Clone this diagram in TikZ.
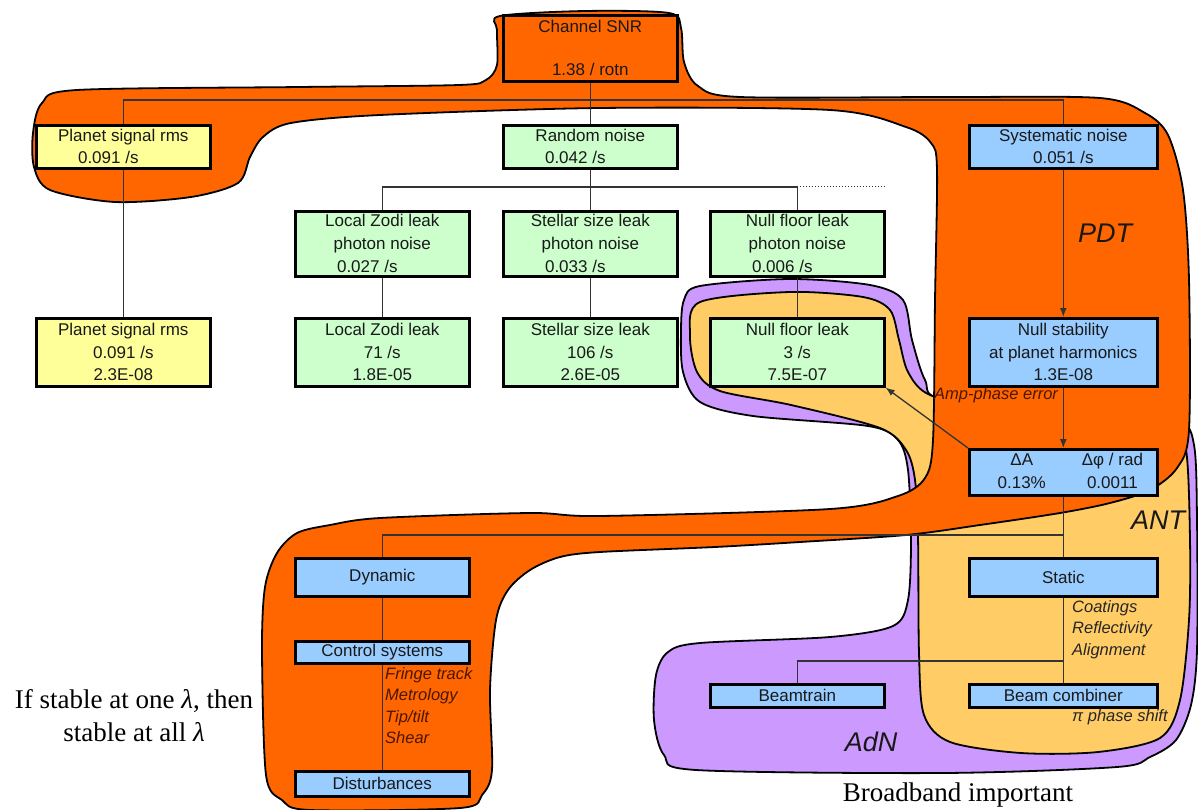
\documentclass[tikz,border=0pt]{standalone}
\usepackage{fontspec}
\setmainfont{Liberation Sans}
\newfontfamily\serifft{Liberation Serif}
\usetikzlibrary{arrows.meta}
\definecolor{orng}{HTML}{FF6600}
\definecolor{antyel}{HTML}{FFCC66}
\definecolor{adnpur}{HTML}{CC99FF}
\definecolor{grnbox}{HTML}{CCFFCC}
\definecolor{bluebox}{HTML}{99CCFF}
\definecolor{yelbox}{HTML}{FFFF99}
\definecolor{brn}{HTML}{4A1600}
\definecolor{lgray}{HTML}{333333}
\begin{document}
\begin{tikzpicture}[x=1pt,y=-1pt,
  box/.style={draw=black, line width=2.6pt, inner sep=0pt, anchor=north west, align=center,
    font=\fontsize{17}{22}\selectfont, text=black!90},
  tbox/.style={box, font=\fontsize{17}{23}\selectfont},
  wA/.style={minimum width=174pt},
  wB/.style={minimum width=188pt},
  conn/.style={draw=lgray, line width=1.3pt},
  arr/.style={conn, -{Latex[length=9pt,width=7pt]}},
  blob/.style={draw=black, line width=1.8pt},
  ital/.style={font=\fontsize{16.5}{21.5}\selectfont\itshape, align=left, anchor=north west, inner sep=0pt},
  big/.style={font=\fontsize{27}{30}\selectfont\itshape, text=black!90, inner sep=0pt},
  note/.style={font=\serifft\fontsize{27}{33}\selectfont, align=center, inner sep=0pt}
]
\useasboundingbox (0,0) rectangle (1198,810);

% ---- blobs
\path[blob, fill=adnpur] plot[smooth cycle, tension=0.5] coordinates {
 (684,300) (700,286) (790,279) (870,285) (903,300) (912,340) (925,380) (945,400) (1100,415)
 (1178,422) (1194,445) (1197,520) (1197,650) (1191,705) (1176,740) (1150,757) (1117,767)
 (944,773) (696,770) (664,755) (654,720) (656,675) (668,652) (700,643) (830,637) (893,626)
 (908,600) (911,540) (908,470) (898,440) (868,426) (753,416) (700,402) (683,372) (681,330)};
\path[blob, fill=antyel] plot[smooth cycle, tension=0.5] coordinates {
 (700,302) (790,292) (863,297) (890,310) (899,340) (908,372) (930,395) (1000,412) (1170,430)
 (1186,450) (1190,540) (1189,620) (1180,700) (1160,738) (1098,752) (1021,753) (950,742)
 (924,715) (919,653) (918,537) (915,480) (906,450) (880,428) (791,405) (720,391) (697,372)
 (690,335)};
\path[blob, fill=orng] plot[smooth cycle, tension=0.5] coordinates {
 (500,16) (585,11) (669,13) (681,28) (684,62) (698,86) (740,97) (950,97) (1100,98) (1145,113)
 (1168,135) (1183,190) (1189,280) (1189,430) (1177,468) (1150,490) (1110,503) (1060,513)
 (980,525) (906,535) (800,542) (715,547) (600,552) (560,557) (530,570) (508,590) (496,620)
 (490,690) (492,770) (482,795) (460,808) (310,810) (282,800) (266,775) (262,650) (265,587)
 (277,553) (297,533) (330,525) (380,518) (530,513) (600,516) (830,509) (898,496) (925,478)
 (933,440) (935,300) (937,170) (931,143) (906,127) (830,110) (600,108) (380,115) (291,123)
 (263,137) (250,157) (238,183) (191,197) (115,202) (50,190) (34,167) (33,133) (42,103)
 (77,90) (300,87) (459,85) (486,80) (497,65) (497,30)};

% ---- boxes
\node[box, wA, minimum height=66pt, fill=orng] (snr) at (502,14) {Channel SNR\\[21pt]1.38 / rotn};
\node[box, wA, minimum height=43pt, fill=yelbox] (planetA) at (35,124) {Planet signal rms\\0.091 /s\hspace*{30pt}};
\node[box, wA, minimum height=43pt, fill=grnbox] (random) at (502,124) {Random noise\\0.042 /s\hspace*{30pt}};
\node[box, wB, minimum height=43pt, fill=bluebox] (sys) at (968,124) {Systematic noise\\0.051 /s};

\node[tbox, wA, minimum height=65pt, fill=grnbox] (lzp) at (294,210) {Local Zodi leak\\photon noise\\0.027 /s\hspace*{30pt}};
\node[tbox, wA, minimum height=65pt, fill=grnbox] (ssp) at (502,210) {Stellar size leak\\photon noise\\0.033 /s\hspace*{30pt}};
\node[tbox, wA, minimum height=65pt, fill=grnbox] (nfp) at (709,210) {Null floor leak\\photon noise\\0.006 /s\hspace*{30pt}};

\node[box, wA, minimum height=68pt, fill=yelbox, font=\fontsize{17}{22.5}\selectfont] (planetB) at (35,317) {Planet signal rms\\0.091 /s\hspace*{30pt}\\2.3E-08};
\node[box, wA, minimum height=68pt, fill=grnbox, font=\fontsize{17}{22.5}\selectfont] (lz) at (294,317) {Local Zodi leak\\71 /s\\1.8E-05};
\node[box, wA, minimum height=68pt, fill=grnbox, font=\fontsize{17}{22.5}\selectfont] (ss) at (502,317) {Stellar size leak\\106 /s\\2.6E-05};
\node[box, wA, minimum height=68pt, fill=grnbox, font=\fontsize{17}{22.5}\selectfont] (nf) at (709,317) {Null floor leak\\3 /s\\7.5E-07};
\node[box, wB, minimum height=68pt, fill=bluebox, font=\fontsize{17}{22.5}\selectfont] (ns) at (968,317) {Null stability\\at planet harmonics\\1.3E-08};

\node[tbox, wB, minimum height=45pt, fill=bluebox] (dA) at (968,448)
  {\hspace*{14pt}\begin{tabular}{@{}c@{\hspace{36pt}}c@{}}ΔA & Δφ / rad\\0.13\% & 0.0011\end{tabular}};

\node[box, wA, minimum height=38pt, fill=bluebox] (dyn) at (294,557) {Dynamic};
\node[box, wA, minimum height=22pt, fill=bluebox] (ctl) at (294,640) {Control systems};
\node[box, wA, minimum height=25pt, fill=bluebox] (dist) at (294,770) {Disturbances};
\node[box, wB, minimum height=38pt, fill=bluebox] (stat) at (968,557) {Static};
\node[box, wA, minimum height=23pt, fill=bluebox] (bt) at (709,683) {Beamtrain};
\node[box, wB, minimum height=23pt, fill=bluebox] (bc) at (968,683) {Beam combiner};

% ---- connectors
\coordinate (bus1) at (0,100);
\coordinate (bus2) at (0,187);
\coordinate (bus3) at (0,535);
\coordinate (bus4) at (0,661);
\draw[conn] (snr.south) -- (random.north);
\draw[conn] (planetA.north) -- (planetA.north |- bus1) -- (sys.north |- bus1) -- (sys.north);
\draw[conn] (planetA.south) -- (planetB.north);
\draw[conn] (random.south) -- (random.south |- bus2);
\draw[conn] (lzp.north) -- (lzp.north |- bus2) -- (nfp.north |- bus2) -- (nfp.north);
\draw[conn] (ssp.north |- bus2) -- (ssp.north);
\draw[draw=lgray, line width=1pt, dotted] (nfp.north |- bus2) -- (nfp.north east |- bus2);
\draw[conn] (lzp.south) -- (lz.north);
\draw[conn] (ssp.south) -- (ss.north);
\draw[conn] (nfp.south) -- (nf.north);
\draw[arr] (sys.south) -- (ns.north);
\draw[arr] (ns.south) -- (dA.north);
\draw[arr] (dA.north west) -- (nf.south east);
\draw[conn] (dA.south) -- (dA.south |- bus3) -- (dyn.north |- bus3) -- (dyn.north);
\draw[conn] (dA.south |- bus3) -- (stat.north);
\draw[conn] (dyn.south) -- (ctl.north);
\draw[conn] (ctl.south) -- (dist.north);
\draw[conn] (stat.south) -- (bc.north);
\draw[conn] (bt.north) -- (bt.north |- bus4) -- (stat.south |- bus4);

% ---- labels
\node[ital, text=brn, anchor=west] (amp) at (934,395) {Amp-phase error};
\node[ital, text=brn] (ctllist) at (385,667) {Fringe track\\Metrology\\Tip/tilt\\Shear};
\node[ital, text=black!85] (statlist) at (1072,600) {Coatings\\Reflectivity\\Alignment};
\node[ital, text=black!85, anchor=west] (pishift) at (1072,717) {π phase shift};
\node[big] (pdt) at (1105,233) {PDT};
\node[big] (ant) at (1158,520) {ANT};
\node[big] (adn) at (871,742) {AdN};
\node[note] (stable) at (134,716) {If stable at one \textit{λ}, then\\stable at all \textit{λ}};
\node[note] (bband) at (958,795) {Broadband important};
\end{tikzpicture}
\end{document}
